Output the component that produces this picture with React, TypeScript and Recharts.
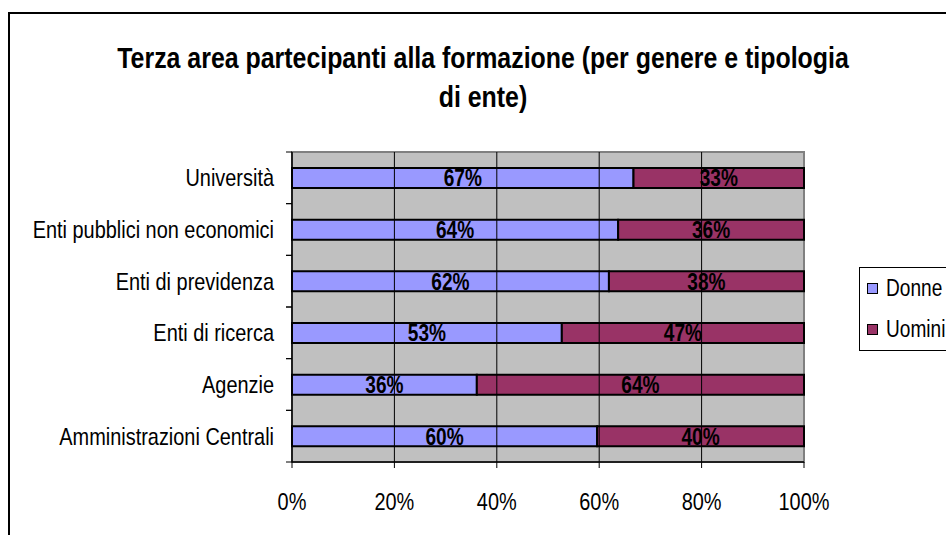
import React from 'react';
import { BarChart, Bar, XAxis, YAxis, ReferenceArea, ReferenceLine, LabelList } from 'recharts';

const categories = [
  'Università',
  'Enti pubblici non economici',
  'Enti di previdenza',
  'Enti di ricerca',
  'Agenzie',
  'Amministrazioni Centrali',
];
const donne = [0.667, 0.637, 0.619, 0.527, 0.361, 0.596];
const uomini = [0.333, 0.363, 0.381, 0.473, 0.639, 0.404];
const xTicks = [0, 0.2, 0.4, 0.6, 0.8, 1];
const gridTicks = [0.2, 0.4, 0.6, 0.8];
const seriesNames = ['Donne', 'Uomini'];
const seriesColors = ['#9999FF', '#993366'];

const data = categories.map((name, i) => ({ name, donne: donne[i], uomini: uomini[i] }));

// no narrow font installed, so Liberation Sans gets squeezed horizontally
const FONT = '"Liberation Sans", Arial, sans-serif';
const SQ = 0.83;
const W = 946;
const H = 535;
const TOP = 152;
const BOTTOM = 73;
const BAND = (H - TOP - BOTTOM) / categories.length;

const pct = (v: any) => `${Math.round(Number(v) * 100)}%`;

// eslint-disable-next-line @typescript-eslint/no-explicit-any
const CategoryTick = ({ x, y, payload }: any) => (
  <g>
    <line x1={x - 6} x2={x} y1={y - BAND / 2} y2={y - BAND / 2} stroke="#000" />
    <line x1={x - 6} x2={x} y1={y + BAND / 2} y2={y + BAND / 2} stroke="#000" />
    <text
      transform={`translate(${x - 18},${y}) scale(${SQ},1)`}
      dy="0.36em"
      textAnchor="end"
      fontSize={24}
      fontFamily={FONT}
      fill="#000"
    >
      {payload.value}
    </text>
  </g>
);

// eslint-disable-next-line @typescript-eslint/no-explicit-any
const PctTick = ({ x, y, payload }: any) => (
  <text
    transform={`translate(${x},${y}) scale(${SQ},1)`}
    dy="0.71em"
    textAnchor="middle"
    fontSize={24}
    fontFamily={FONT}
    fill="#000"
  >
    {pct(payload.value)}
  </text>
);

// eslint-disable-next-line @typescript-eslint/no-explicit-any
const BarLabel = (props: any) => {
  const { x, y, width, height, value } = props;
  return (
    <text
      transform={`translate(${x + width / 2},${y + height / 2}) scale(${SQ},1)`}
      dy="0.36em"
      textAnchor="middle"
      fontSize={23}
      fontWeight="bold"
      fontFamily={FONT}
      fill="#000"
    >
      {pct(value)}
    </text>
  );
};

const LegendBox = () => (
  <div
    style={{
      position: 'absolute',
      left: 859,
      top: 267,
      width: 120,
      height: 84,
      border: '1px solid #000',
      background: '#fff',
      boxSizing: 'border-box',
      paddingTop: 7,
      paddingLeft: 7,
      fontFamily: FONT,
      fontSize: 23,
    }}
  >
    {seriesNames.map((label, i) => (
      <div key={label} style={{ display: 'flex', alignItems: 'center', height: 26, marginTop: i === 0 ? 0 : 15 }}>
        <span
          style={{
            display: 'inline-block',
            width: 9,
            height: 9,
            background: seriesColors[i],
            border: '1px solid #000',
            marginRight: 8,
          }}
        />
        <span style={{ display: 'inline-block', transform: `scaleX(${SQ})`, transformOrigin: 'left center' }}>{label}</span>
      </div>
    ))}
  </div>
);

export default function App() {
  return (
    <div style={{ position: 'absolute', left: 0, top: 0, width: W, height: H, background: '#fff', overflow: 'hidden' }}>
      <div
        style={{
          position: 'absolute',
          left: 8,
          top: 12,
          width: 960,
          height: 560,
          border: '2px solid #000',
          boxSizing: 'border-box',
        }}
      />
      <div
        style={{
          position: 'absolute',
          left: 0,
          top: 38,
          width: 966,
          textAlign: 'center',
          fontFamily: FONT,
          fontWeight: 'bold',
          fontSize: 30,
          lineHeight: '39px',
          color: '#000',
          whiteSpace: 'nowrap',
          transform: `scaleX(${SQ})`,
          transformOrigin: '483px 0',
        }}
      >
        Terza area partecipanti alla formazione (per genere e tipologia
        <br />
        di ente)
      </div>
      <div style={{ position: 'absolute', left: 0, top: 0 }}>
        <BarChart
          width={W}
          height={H}
          data={data}
          layout="vertical"
          margin={{ top: TOP, right: W - 804, bottom: BOTTOM - 60, left: 0 }}
        >
          <ReferenceArea x1={0} x2={1} fill="#C0C0C0" fillOpacity={1} stroke="#808080" strokeWidth={2} />
          {gridTicks.map((t) => (
            <ReferenceLine key={t} x={t} stroke="#000" strokeWidth={1} />
          ))}
          <XAxis
            type="number"
            domain={[0, 1]}
            ticks={xTicks}
            height={60}
            tickSize={6}
            tickMargin={25}
            axisLine={{ stroke: '#000', strokeWidth: 1.5 }}
            tickLine={{ stroke: '#000' }}
            tick={<PctTick />}
          />
          <YAxis
            type="category"
            dataKey="name"
            width={292}
            tickSize={0}
            tickMargin={0}
            tickLine={false}
            axisLine={{ stroke: '#000', strokeWidth: 1.5 }}
            tick={<CategoryTick />}
            interval={0}
          />
          <Bar dataKey="donne" name="Donne" stackId="a" fill={seriesColors[0]} stroke="#000" strokeWidth={2} barSize={20} isAnimationActive={false}>
            <LabelList dataKey="donne" content={BarLabel} />
          </Bar>
          <Bar dataKey="uomini" name="Uomini" stackId="a" fill={seriesColors[1]} stroke="#000" strokeWidth={2} barSize={20} isAnimationActive={false}>
            <LabelList dataKey="uomini" content={BarLabel} />
          </Bar>
        </BarChart>
      </div>
      <LegendBox />
    </div>
  );
}
